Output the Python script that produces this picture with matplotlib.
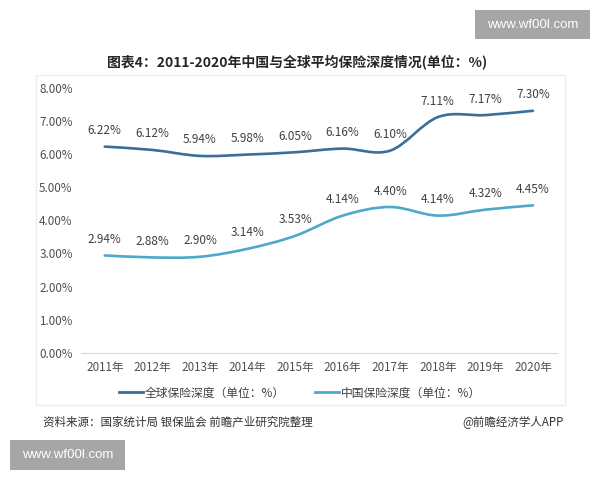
import numpy as np
import matplotlib.pyplot as plt
from matplotlib.path import Path
from matplotlib.patches import PathPatch, Rectangle
from matplotlib.lines import Line2D

plt.rcParams['font.family'] = ['Noto Sans CJK SC', 'DejaVu Sans']

# data
years = ['2011年', '2012年', '2013年', '2014年', '2015年',
         '2016年', '2017年', '2018年', '2019年', '2020年']
world = [6.22, 6.12, 5.94, 5.98, 6.05, 6.16, 6.10, 7.11, 7.17, 7.30]
china = [2.94, 2.88, 2.90, 3.14, 3.53, 4.14, 4.40, 4.14, 4.32, 4.45]
yticks = [0, 1, 2, 3, 4, 5, 6, 7, 8]

c_world = '#3c6e9a'
c_china = '#4da8ca'


def smooth_path(xs, ys, k=1/6):
    # catmull-rom style bezier through the points (like excel smoothed lines)
    pts = np.column_stack([xs, ys]).astype(float)
    n = len(pts)
    verts = [pts[0]]
    codes = [Path.MOVETO]
    for i in range(n - 1):
        p0 = pts[max(i - 1, 0)]
        p1 = pts[i]
        p2 = pts[i + 1]
        p3 = pts[min(i + 2, n - 1)]
        verts += [p1 + (p2 - p0) * k, p2 - (p3 - p1) * k, p2]
        codes += [Path.CURVE4] * 3
    return Path(verts, codes)


fig = plt.figure(figsize=(6, 4.8), dpi=100)

# faint panel frame
fig.patches.append(Rectangle((36/600, 1-405/480), (565-36)/600, (405-75)/480,
                             transform=fig.transFigure, fill=False,
                             edgecolor='#ececec', lw=1))

ax = fig.add_axes([0.135, 0.2646, 0.793, 0.553])
x = np.arange(len(years))

for vals, col in [(world, c_world), (china, c_china)]:
    ax.add_patch(PathPatch(smooth_path(x, vals), fill=False, edgecolor=col,
                           lw=1.9, capstyle='round'))
    for i, v in enumerate(vals):
        ax.annotate(f'{v:.2f}%', (i, v), xytext=(0, 11.5), textcoords='offset points',
                    ha='center', va='center', fontsize=8.5, color='#404040')

ax.set_xlim(-0.5, len(years) - 0.5)
ax.set_ylim(0, 8)
ax.set_xticks(x)
ax.set_xticklabels(years)
ax.set_yticks(yticks)
ax.set_yticklabels([f'{t:.2f}%' for t in yticks])
ax.tick_params(length=0, labelsize=8.4, colors='#505050')
ax.tick_params(axis='y', pad=6)
ax.tick_params(axis='x', pad=6)
for s in ['top', 'right', 'left']:
    ax.spines[s].set_visible(False)
ax.spines['bottom'].set_color('#d9d9d9')

handles = [Line2D([], [], color=c_world, lw=2.0),
           Line2D([], [], color=c_china, lw=2.0)]
fig.legend(handles, ['全球保险深度（单位：%）', '中国保险深度（单位：%）'],
           loc='center', bbox_to_anchor=(0.5, 1-393/480), ncol=2, frameon=False,
           fontsize=8.5, handlelength=2.0, handletextpad=0.15, columnspacing=2.6,
           labelcolor='#404040')

fig.text(0.495, 1-63/480, '图表4：2011-2020年中国与全球平均保险深度情况(单位：%)',
         ha='center', va='center', fontsize=10, fontweight='bold', color='#262626')
fig.text(43/600, 1-422/480, '资料来源：国家统计局 银保监会 前瞻产业研究院整理',
         ha='left', va='center', fontsize=8.3, color='#333333')
fig.text(564/600, 1-422/480, '@前瞻经济学人APP',
         ha='right', va='center', fontsize=8.3, color='#333333')

# site stamps
for bx, by, bw, bh in [(475, 10, 115, 29), (10, 440, 115, 30)]:
    fig.patches.append(Rectangle((bx/600, 1-(by+bh)/480), bw/600, bh/480,
                                 transform=fig.transFigure, facecolor='#a6a6a6',
                                 edgecolor='none'))
    fig.text((bx + bw/2)/600, 1-(by + bh/2)/480, 'www.wf00l.com',
             ha='center', va='center', fontsize=9.5, color='white',
             family='Liberation Sans')

fig.savefig('out.png', dpi=100)
